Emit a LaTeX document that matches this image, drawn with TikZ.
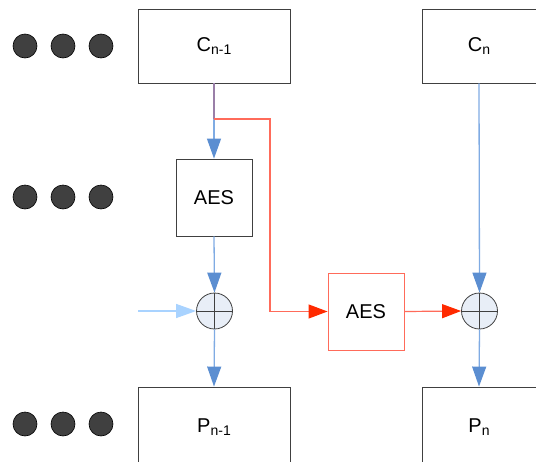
\documentclass[tikz,border=0pt]{standalone}
\usepackage{fontspec}
\setmainfont{Liberation Sans}
\usetikzlibrary{arrows.meta}
\definecolor{flowblue}{HTML}{5B8ED1}
\definecolor{lineblue}{HTML}{7FABE3}
\definecolor{paleblue}{HTML}{A9D3FF}
\definecolor{flowred}{HTML}{FF2A00}
\definecolor{linered}{HTML}{FF6B5A}
\definecolor{purp}{HTML}{9A7FA8}
\definecolor{xorfill}{HTML}{E8EEF7}
\definecolor{dotgray}{HTML}{404040}
\tikzset{
  box/.style={draw=black!75, line width=0.9pt, minimum width=152pt, minimum height=74pt, inner sep=0pt, font=\fontsize{20}{22}\selectfont},
  smallbox/.style={box, minimum width=114pt},
  aesbox/.style={box, minimum width=76pt, minimum height=77pt},
  redbox/.style={aesbox, draw=linered},
  xor/.style={circle, draw=black!75, fill=xorfill, line width=0.8pt, minimum size=36pt, inner sep=0pt, path picture={
      \draw[black!75, line width=0.8pt] (path picture bounding box.north) -- (path picture bounding box.south)
        (path picture bounding box.west) -- (path picture bounding box.east);}},
  bdot/.style={circle, fill=dotgray, draw=black, line width=0.6pt, minimum size=24pt, inner sep=0pt},
  bluearrow/.style={draw=lineblue, line width=1.3pt, -{Triangle[length=20pt,width=14pt,fill=flowblue,color=flowblue]}},
  palearrow/.style={draw=paleblue, line width=1.3pt, -{Triangle[length=20pt,width=14pt,fill=paleblue,color=paleblue]}},
  redarrow/.style={draw=linered, line width=1.2pt, -{Triangle[length=19pt,width=14pt,fill=flowred,color=flowred]}},
}
\newcommand{\subtxt}[1]{\raisebox{-3pt}{\fontsize{14}{16}\selectfont #1}}
\begin{document}
\begin{tikzpicture}[x=1pt,y=-1pt]
\useasboundingbox (0,0) rectangle (536,461);
\node[box] (cn1) at (214,46) {C\subtxt{n-1}};
\node[smallbox] (cn) at (479,46) {C\subtxt{n}};
\node[aesbox] (aes1) at (214,197.5) {AES};
\node[redbox] (aes2) at (366,311.5) {AES};
\node[xor] (x1) at (214.5,311) {};
\node[xor] (x2) at (479.5,311) {};
\node[box, minimum height=80pt] (pn1) at (214,427) {P\subtxt{n-1}};
\node[smallbox, minimum height=80pt] (pn) at (479,427) {P\subtxt{n}};
\foreach \yy/\nm in {46/a,197/b,424/c}{
  \node[bdot] (\nm1) at (25,\yy) {};
  \node[bdot] (\nm2) at (63,\yy) {};
  \node[bdot] (\nm3) at (101,\yy) {};
}
\coordinate (split) at (214,119);
\coordinate (turn) at (270,119);
\coordinate (feed) at (138,311);
\draw[purp, line width=1.3pt] (cn1.south) -- (split);
\draw[bluearrow] (split) -- (aes1.north);
\draw[redarrow] (split) -- (turn) |- (aes2.west);
\draw[bluearrow] (aes1.south) -- (x1.north);
\draw[palearrow] (feed) -- (x1.west);
\draw[bluearrow] (x1.south) -- (pn1.north);
\draw[bluearrow] (cn.south) -- (x2.north);
\draw[redarrow] (aes2.east) -- (x2.west);
\draw[bluearrow] (x2.south) -- (pn.north);
\end{tikzpicture}
\end{document}
